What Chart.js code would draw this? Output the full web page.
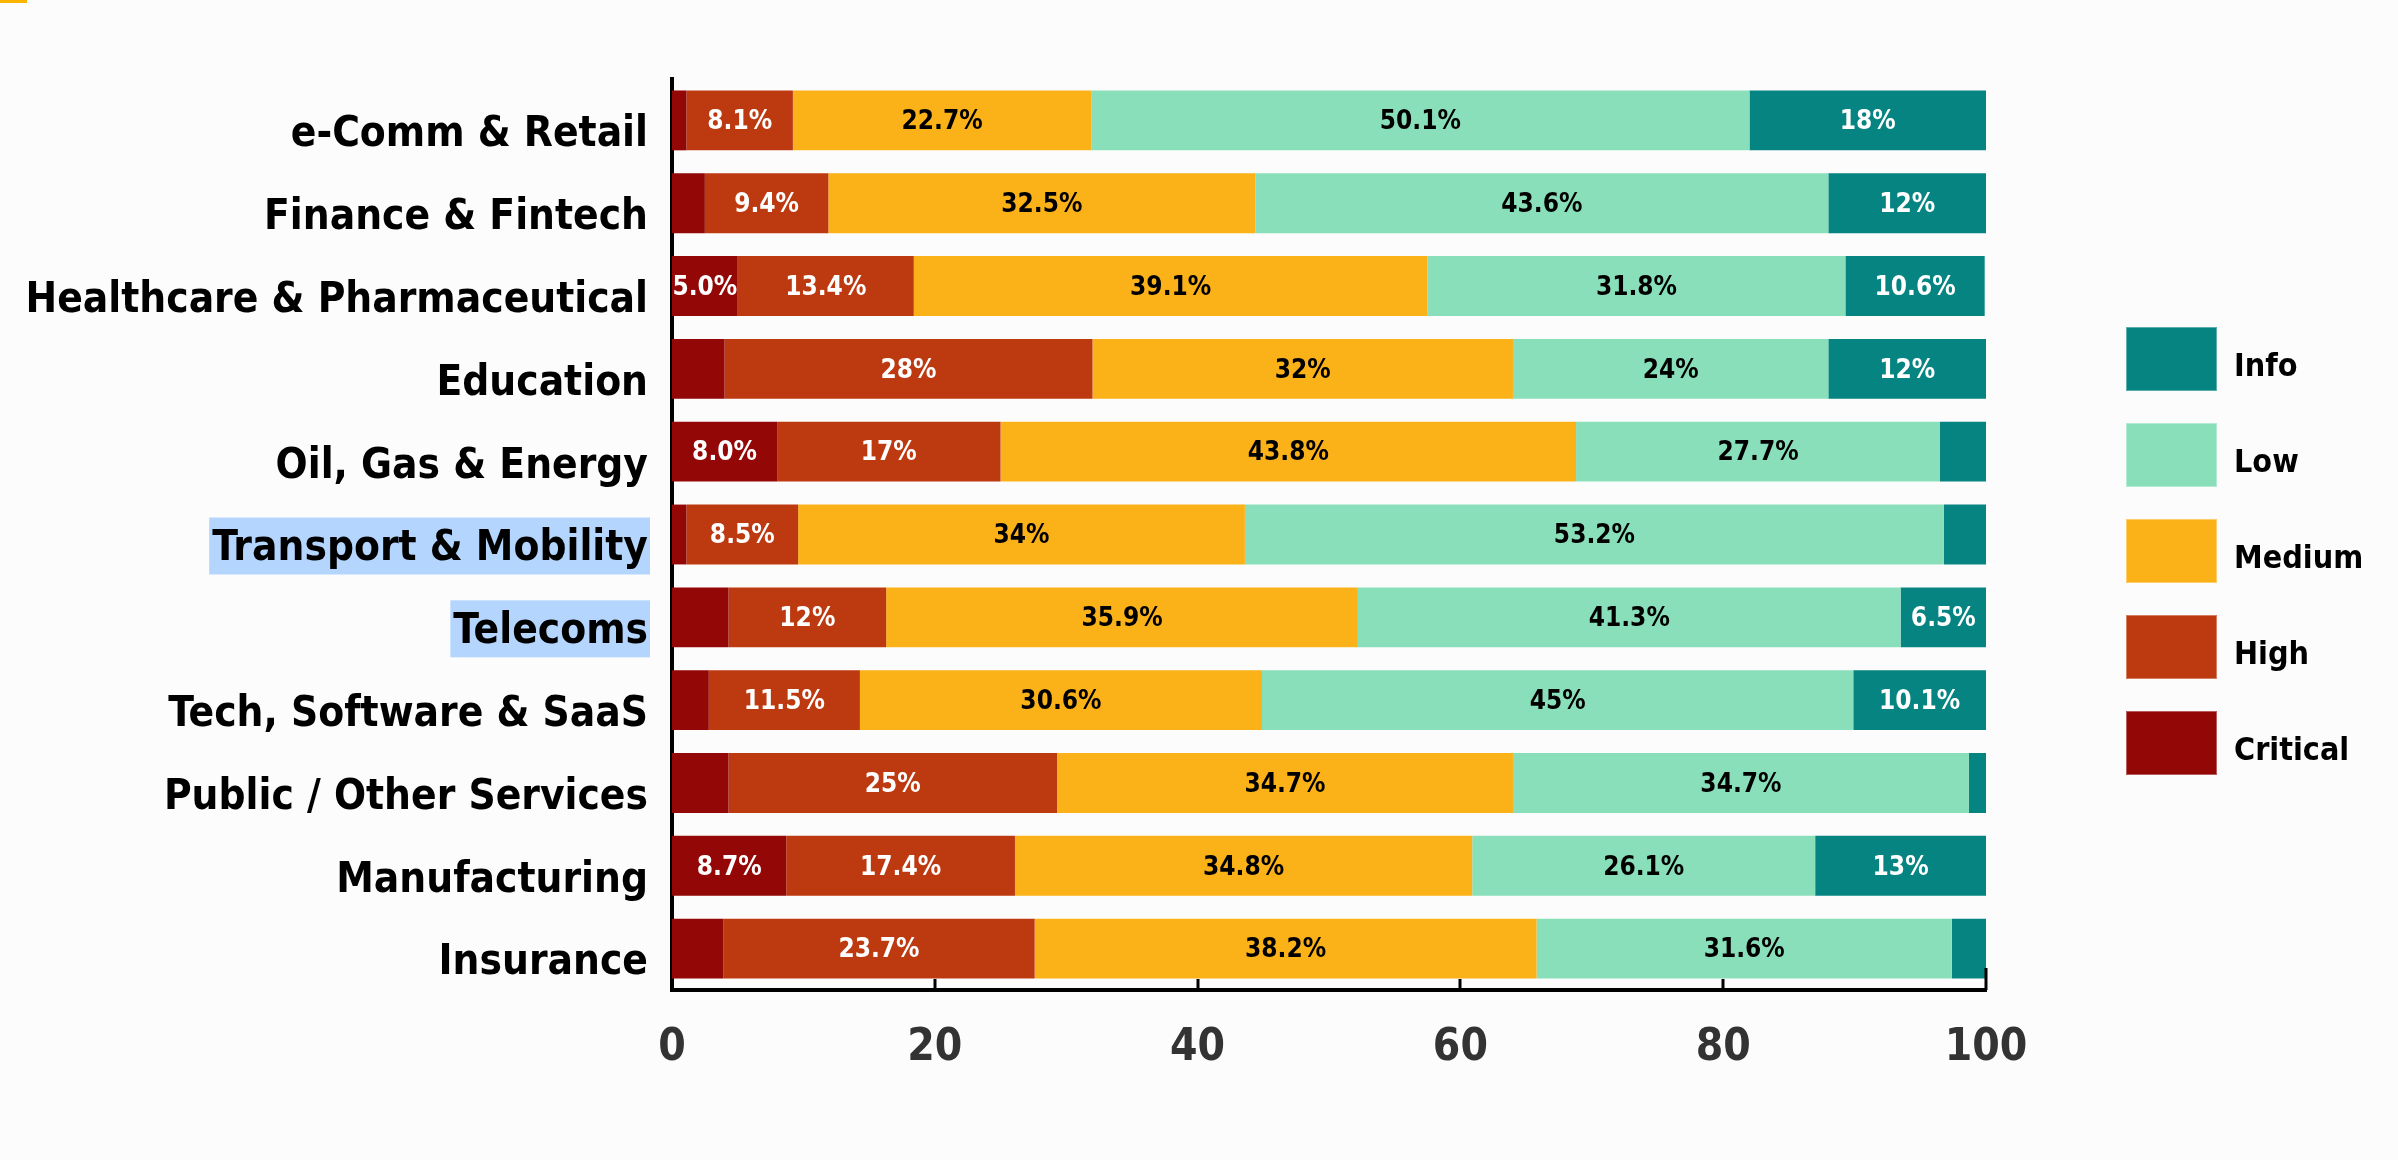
<!DOCTYPE html>
<html>
<head>
<meta charset="utf-8">
<title>Findings by severity and sector</title>
<script src="https://cdn.jsdelivr.net/npm/chart.js@4.4.1/dist/chart.umd.min.js"></script>
<style>
    html, body { margin: 0; padding: 0; background: #fcfcfc; }
    #wrap { position: relative; width: 2398px; height: 1160px; }
    #corner { position: absolute; left: 0; top: 0; width: 27px; height: 3px; background: #fbb400; }
</style>
</head>
<body>
<div id="wrap">
    <div id="corner"></div>
    <canvas id="severityChart" width="2398" height="1160"></canvas>
</div>
<script>
// Sectors (top to bottom)
const sectors = [
    'e-Comm & Retail',
    'Finance & Fintech',
    'Healthcare & Pharmaceutical',
    'Education',
    'Oil, Gas & Energy',
    'Transport & Mobility',
    'Telecoms',
    'Tech, Software & SaaS',
    'Public / Other Services',
    'Manufacturing',
    'Insurance'
];

// Share of findings per severity (%)
const critical = [1.1, 2.5, 5.0, 4.0, 8.0, 1.1, 4.3, 2.8, 4.3, 8.7, 3.9];
const high     = [8.1, 9.4, 13.4, 28, 17, 8.5, 12, 11.5, 25, 17.4, 23.7];
const medium   = [22.7, 32.5, 39.1, 32, 43.8, 34, 35.9, 30.6, 34.7, 34.8, 38.2];
const low      = [50.1, 43.6, 31.8, 24, 27.7, 53.2, 41.3, 45, 34.7, 26.1, 31.6];
const info     = [18, 12, 10.6, 12, 3.5, 3.2, 6.5, 10.1, 1.3, 13, 2.6];

// Sectors whose label is highlighted
const highlighted = ['Transport & Mobility', 'Telecoms'];

const FONT = "'DejaVu Sans Condensed', 'Liberation Sans Narrow', sans-serif";
const LABEL_SIZE = 42;

// Series setup
const series = [
    { label: 'Critical', data: critical, color: '#930707', text: '#ffffff', fixed: true },
    { label: 'High',     data: high,     color: '#bd3910', text: '#ffffff' },
    { label: 'Medium',   data: medium,   color: '#fbb219', text: '#000000' },
    { label: 'Low',      data: low,      color: '#8adfbb', text: '#000000' },
    { label: 'Info',     data: info,     color: '#068481', text: '#ffffff' }
];

function formatValue(s, v) {
    return (s.fixed ? v.toFixed(1) : String(v)) + '%';
}

// Light blue background behind some category labels (drawn before the axes)
const labelHighlight = {
    id: 'labelHighlight',
    beforeDraw(chart) {
        const ctx = chart.ctx;
        const yScale = chart.scales.y;
        ctx.save();
        ctx.font = `bold ${LABEL_SIZE}px ${FONT}`;
        sectors.forEach((name, i) => {
            if (!highlighted.includes(name)) return;
            const w = ctx.measureText(name).width;
            const right = yScale.right - 24;
            const cy = yScale.getPixelForValue(i) + 11;
            ctx.fillStyle = '#b4d5fd';
            ctx.fillRect(right - w - 3, cy - 28, w + 5, 57);
        });
        ctx.restore();
    }
};

// Percent labels inside the segments
const segmentLabels = {
    id: 'segmentLabels',
    afterDatasetsDraw(chart) {
        const ctx = chart.ctx;
        ctx.save();
        ctx.font = `bold 26px ${FONT}`;
        ctx.textAlign = 'center';
        ctx.textBaseline = 'middle';
        chart.data.datasets.forEach((ds, di) => {
            const s = series[di];
            chart.getDatasetMeta(di).data.forEach((bar, i) => {
                const v = ds.data[i];
                if (v < 5) return;
                ctx.fillStyle = s.text;
                ctx.fillText(formatValue(s, v), (bar.x + bar.base) / 2, bar.y + 2);
            });
        });
        ctx.restore();
    }
};

// Inward tick marks on the bottom axis
const innerTicks = {
    id: 'innerTicks',
    afterDraw(chart) {
        const ctx = chart.ctx;
        const x = chart.scales.x;
        const bottom = chart.chartArea.bottom;
        ctx.save();
        ctx.strokeStyle = '#000';
        ctx.lineWidth = 3;
        x.ticks.forEach(t => {
            if (t.value === 0) return;
            const px = Math.round(x.getPixelForValue(t.value));
            ctx.beginPath();
            ctx.moveTo(px, bottom);
            ctx.lineTo(px, bottom - (t.value === 100 ? 22 : 11));
            ctx.stroke();
        });
        ctx.restore();
    }
};

// Legend drawn as a column of big squares on the right
const sideLegend = {
    id: 'sideLegend',
    afterDraw(chart) {
        const ctx = chart.ctx;
        ctx.save();
        ctx.font = `bold 32px ${FONT}`;
        ctx.textAlign = 'left';
        ctx.textBaseline = 'middle';
        const items = chart.data.datasets.slice().reverse();
        items.forEach((ds, i) => {
            const top = 327 + i * 96;
            ctx.fillStyle = ds.backgroundColor;
            ctx.fillRect(2126, top, 91, 64);
            ctx.strokeStyle = 'rgba(255,255,255,0.35)';
            ctx.lineWidth = 1;
            ctx.strokeRect(2126.5, top + 0.5, 90, 63);
            ctx.fillStyle = '#000';
            ctx.fillText(ds.label, 2234, top + 41);
        });
        ctx.restore();
    }
};

const ctx = document.getElementById('severityChart').getContext('2d');

new Chart(ctx, {
    type: 'bar',
    data: {
        labels: sectors,
        datasets: series.map(s => ({
            label: s.label,
            data: s.data,
            backgroundColor: s.color,
            borderWidth: 0,
            barPercentage: 0.723,
            categoryPercentage: 1
        }))
    },
    options: {
        indexAxis: 'y',
        responsive: false,
        animation: false,
        layout: {
            padding: { top: 79, right: 412, bottom: 0, left: 0 }
        },
        plugins: {
            legend: { display: false },
            tooltip: { enabled: false }
        },
        scales: {
            x: {
                stacked: true,
                min: 0,
                max: 100,
                ticks: {
                    stepSize: 20,
                    padding: 32,
                    color: '#333333',
                    font: { family: FONT, size: 44, weight: 'bold' }
                },
                grid: { display: false, drawTicks: false },
                border: { display: true, color: '#000', width: 4 },
                afterFit(scale) {
                    scale.height = 170;
                }
            },
            y: {
                stacked: true,
                ticks: {
                    padding: 24,
                    labelOffset: 15,
                    color: '#000',
                    font: { family: FONT, size: LABEL_SIZE, weight: 'bold' }
                },
                grid: { display: false, drawTicks: false },
                border: { display: true, color: '#000', width: 4 },
                afterFit(scale) {
                    scale.width = 672;
                }
            }
        }
    },
    plugins: [labelHighlight, segmentLabels, innerTicks, sideLegend]
});
</script>
</body>
</html>
